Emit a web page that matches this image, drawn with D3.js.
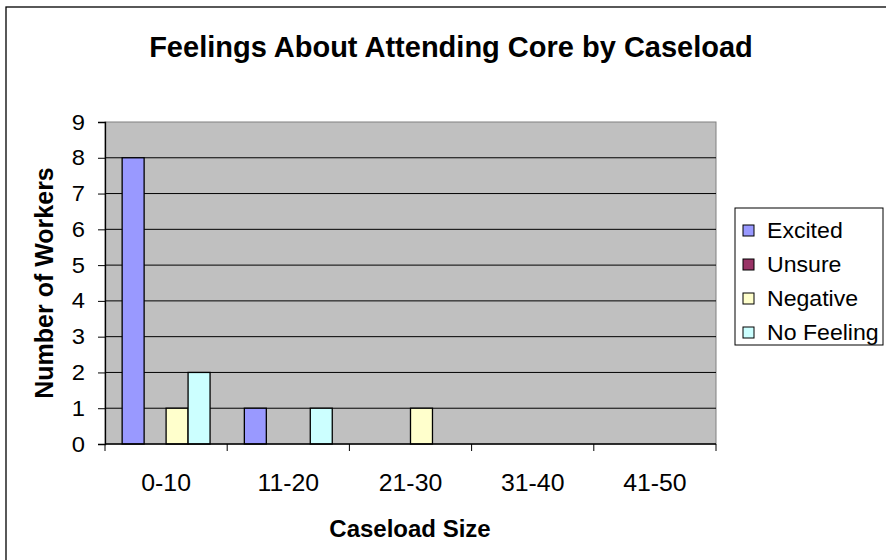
<!DOCTYPE html>
<html><head><meta charset="utf-8">
<script src="https://cdn.jsdelivr.net/npm/d3@7"></script>
<style>body{margin:0;background:#fff}svg{display:block}text{font-family:"Liberation Sans",Arial,sans-serif;fill:#000}</style>
</head><body><div id="chart"></div>
<script>
const categories = ["0-10","11-20","21-30","31-40","41-50"];
const seriesNames = ["Excited","Unsure","Negative","No Feeling"];
const excited   = [8,1,0,0,0];
const unsure    = [0,0,0,0,0];
const negative  = [1,0,1,0,0];
const noFeeling = [2,1,0,0,0];
const yTicks = [0,1,2,3,4,5,6,7,8,9];
const colors = ["#9999FF","#993366","#FFFFCC","#CCFFFF"];
const seriesValues = [excited, unsure, negative, noFeeling];

const W = 886, H = 560, SX = 1.08;
const svg = d3.select("#chart").append("svg").attr("width", W).attr("height", H);
svg.append("rect").attr("x",6).attr("y",7).attr("width",W+20).attr("height",H+20)
  .attr("fill","#fff").attr("stroke","#000").attr("stroke-width",1.3);

const plot = {l:105, t:122, r:716, b:444};
const x0 = d3.scaleBand().domain(categories).range([plot.l, plot.r]).paddingInner(0).paddingOuter(0);
const x1 = d3.scaleBand().domain(seriesNames).range([0, x0.bandwidth()]).paddingInner(0).paddingOuter(0.78);
const y = d3.scaleLinear().domain([0,9]).range([plot.b, plot.t]);

svg.append("rect").attr("x",plot.l).attr("y",plot.t).attr("width",plot.r-plot.l).attr("height",plot.b-plot.t)
  .attr("fill","#C0C0C0").attr("stroke","#808080").attr("stroke-width",1);

svg.append("g").selectAll("line").data(yTicks.filter(d=>d>0 && d<9)).join("line")
  .attr("x1",plot.l).attr("x2",plot.r).attr("y1",d=>y(d)).attr("y2",d=>y(d))
  .attr("stroke","#000").attr("stroke-width",1);

const rows = [];
categories.forEach((c,i)=>seriesNames.forEach((s,j)=>{ if(seriesValues[j][i]>0) rows.push({c,s,v:seriesValues[j][i],j}); }));
svg.append("g").selectAll("rect").data(rows).join("rect")
  .attr("x",d=>x0(d.c)+x1(d.s)).attr("width",x1.bandwidth())
  .attr("y",d=>y(d.v)).attr("height",d=>y(0)-y(d.v))
  .attr("fill",d=>colors[d.j]).attr("stroke","#000").attr("stroke-width",1.3);

const yAxis = d3.axisLeft(y).tickValues(yTicks).tickSize(7).tickPadding(13).tickFormat(d3.format("d"));
const gy = svg.append("g").attr("transform",`translate(${plot.l},0)`).call(yAxis);
gy.select(".domain").attr("stroke","#000").attr("stroke-width",1.3);
gy.selectAll(".tick line").attr("stroke","#000");
gy.selectAll("text").attr("font-size",22).attr("font-family","Liberation Sans, Arial, sans-serif")
  .attr("x",0).attr("transform",`translate(-20,0) scale(${SX},1)`);

const xTickPos = categories.map(c=>x0(c)).concat([plot.r]);
const gx = svg.append("g");
gx.append("line").attr("x1",plot.l).attr("x2",plot.r).attr("y1",plot.b).attr("y2",plot.b).attr("stroke","#000").attr("stroke-width",1.3);
gx.selectAll("line.tk").data(xTickPos).join("line").attr("class","tk")
  .attr("x1",d=>d).attr("x2",d=>d).attr("y1",plot.b).attr("y2",plot.b+7).attr("stroke","#000");
gx.selectAll("text").data(categories).join("text")
  .attr("transform",d=>`translate(${x0(d)+x0.bandwidth()/2},491) scale(${SX},1)`).attr("text-anchor","middle")
  .attr("font-size",23).text(d=>d);

svg.append("text").attr("x",451).attr("y",57).attr("text-anchor","middle")
  .attr("font-size",29).attr("font-weight","bold").text("Feelings About Attending Core by Caseload");
svg.append("text").attr("x",410).attr("y",537).attr("text-anchor","middle")
  .attr("font-size",24).attr("font-weight","bold").text("Caseload Size");
svg.append("text").attr("transform","translate(53,283) rotate(-90)").attr("text-anchor","middle")
  .attr("font-size",25).attr("font-weight","bold").text("Number of Workers");

const lg = svg.append("g");
lg.append("rect").attr("x",735).attr("y",208).attr("width",148).attr("height",137)
  .attr("fill","#fff").attr("stroke","#000").attr("stroke-width",1);
const li = lg.selectAll("g.it").data(seriesNames).join("g").attr("class","it")
  .attr("transform",(d,i)=>`translate(743,${230+i*34})`);
li.append("rect").attr("x",0).attr("y",-5).attr("width",11).attr("height",11)
  .attr("fill",(d,i)=>colors[i]).attr("stroke","#000").attr("stroke-width",1);
li.append("text").attr("transform",`translate(24,8) scale(1.05,1)`).attr("font-size",22).text(d=>d);
</script></body></html>
